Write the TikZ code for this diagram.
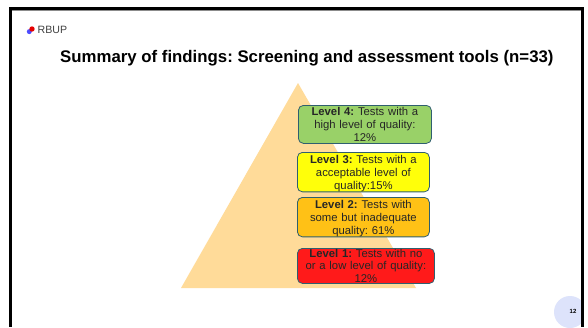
\documentclass[tikz,border=0pt]{standalone}
\usepackage{fontspec}
\setmainfont{Liberation Sans}
\frenchspacing
\definecolor{tri}{HTML}{FFDB99}
\definecolor{edgeb}{HTML}{2F5F6F}
\definecolor{lgreen}{HTML}{99D168}
\definecolor{lyellow}{HTML}{FFFF0A}
\definecolor{lorange}{HTML}{FFC116}
\definecolor{lred}{HTML}{FF1A1A}
\definecolor{pg}{HTML}{DDE3FB}
\tikzset{
  x=1pt,y=-1pt,
  levelbox/.style={draw=edgeb,line width=0.8pt,rounded corners=5pt,anchor=north west,inner sep=0pt,align=center,font=\fontsize{11.3}{12.8}\selectfont,text=black!85}
}
\begin{document}
\begin{tikzpicture}
\useasboundingbox (0,0) rectangle (588,327);
\fill[white] (0,0) rectangle (588,327);
\fill[tri] (298,83) -- (416,288) -- (181,288) -- cycle;
\fill[pg] (570,312) circle (16);
% frame
\fill[black] (9,7) rectangle (584,10);
\fill[black!45] (12,10) rectangle (581,11);
\fill[black] (9,7) rectangle (12,327);
\fill[black] (581,7) rectangle (584,327);
\fill[white] (584,0) rectangle (588,327);
% logo
\fill[blue!70!white] (29.3,31.6) circle (2.5);
\fill[red!90!black] (32,29) circle (2.7);
\node[anchor=west,inner sep=0pt,font=\fontsize{10.6}{11}\selectfont,text=black!75] (logo) at (37.5,30) {RBUP};
\node[anchor=base west,inner sep=0pt,font=\bfseries\fontsize{16.8}{18}\selectfont] (title) at (60,62) {Summary of findings: Screening and assessment tools (n=33)};
\node[levelbox,fill=lgreen,minimum width=133pt,minimum height=38pt,text width=128pt] (l4) at (298,105) {\textbf{Level 4:} Tests with a\\high level of quality:\\12\%};
\node[levelbox,fill=lyellow,minimum width=132pt,minimum height=37pt,text width=128pt] (l3) at (297,152) {\rule{0pt}{11.5pt}\textbf{Level 3:} Tests with a\\acceptable level of\\quality:15\%};
\node[levelbox,fill=lorange,minimum width=132pt,minimum height=37pt,text width=128pt] (l2) at (297,197) {\rule{0pt}{11.5pt}\textbf{Level 2:} Tests with\\some but inadequate\\quality: 61\%};
\node[levelbox,fill=lred,minimum width=137pt,minimum height=35pt,text width=134pt] (l1) at (297,248) {\textbf{Level 1:} Tests with no\\or a low level of quality:\\12\%};
\node[anchor=center,inner sep=0pt,font=\bfseries\fontsize{6}{7}\selectfont] (pgnum) at (573,311.5) {12};
\end{tikzpicture}
\end{document}
